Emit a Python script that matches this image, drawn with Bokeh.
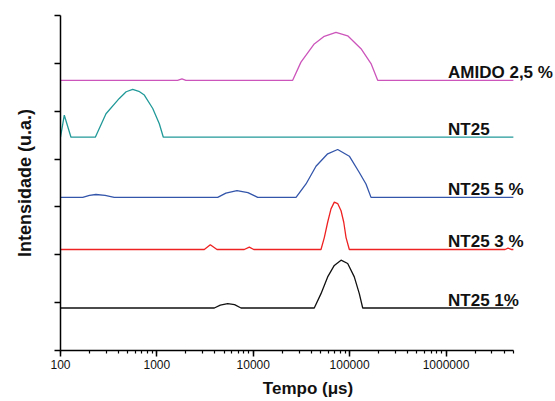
from bokeh.plotting import figure
from bokeh.models import Label, LogTicker, FixedTicker, PrintfTickFormatter, Range1d, CustomJSTickFormatter
from bokeh.embed import file_html
from bokeh.resources import INLINE

# Relaxation time (µs) and normalised intensity for each sample
amido_tau = [100, 1640, 1820, 2000, 25650, 31260, 42950, 54560, 72150, 95450, 131200, 166700, 195500, 5.0e6]
amido_int = [0, 0, 0.03, 0, 0, 0.38, 0.76, 0.92, 1.0, 0.93, 0.66, 0.35, 0, 0]

nt25_tau = [100, 109.5, 128.5, 229.7, 296.5, 407.5, 480, 561, 650, 741, 906, 1060, 1167, 5.0e6]
nt25_int = [0, 0.46, 0, 0, 0.49, 0.81, 0.95, 1.0, 0.96, 0.88, 0.60, 0.28, 0, 0]

nt25_5_tau = [100, 170, 200, 233, 290, 361, 4276, 5200, 6776, 8800, 11120,
              27800, 35270, 44780, 59190, 75170, 99300, 126000, 147800, 166700, 5.0e6]
nt25_5_int = [0, 0, 0.04, 0.06, 0.04, 0, 0, 0.09, 0.14, 0.10, 0,
              0, 0.28, 0.65, 0.91, 1.0, 0.86, 0.52, 0.28, 0, 0]

nt25_3_tau = [100, 3104, 3584, 4205, 8070, 9100, 10120,
              50470, 54610, 59170, 64070, 69340, 75170, 81470, 86910, 91820, 99300,
              4.1e6, 4.4e6, 4.8e6, 5.0e6]
nt25_3_int = [0, 0, 0.10, 0, 0, 0.05, 0,
              0, 0.25, 0.57, 0.85, 0.99, 0.96, 0.81, 0.57, 0.25, 0,
              0, 0.03, 0, 0]

nt25_1_tau = [100, 3945, 4550, 5432, 6400, 7464, 42960, 50470, 59170, 69340, 81470, 95500, 111800, 126000, 136700, 5.0e6]
nt25_1_int = [0, 0, 0.06, 0.09, 0.07, 0, 0, 0.30, 0.65, 0.89, 1.0, 0.93, 0.65, 0.30, 0, 0]

names = ["AMIDO 2,5 %", "NT25", "NT25 5 %", "NT25 3 %", "NT25 1%"]
offsets = [5.646, 4.457, 3.20, 2.11, 0.888]
colors = ["#CC55BB", "#229999", "#3355AA", "#EE2222", "#111111"]
taus = [amido_tau, nt25_tau, nt25_5_tau, nt25_3_tau, nt25_1_tau]
ints = [amido_int, nt25_int, nt25_5_int, nt25_3_int, nt25_1_int]

x_ticks_bounds = (100, 5.0e6)
y_ticks = [0, 1, 2, 3, 4, 5, 6, 7]

FONT = "Liberation Sans"

p = figure(width=555, height=401, x_axis_type="log",
           x_range=Range1d(100, 10 ** (2 + 495 / 96.375)),
           y_range=Range1d(0, 7),
           output_backend="svg", toolbar_location=None,
           min_border_left=60, min_border_top=15, min_border_right=0, min_border_bottom=51)
p.outline_line_color = None
p.xgrid.visible = False
p.ygrid.visible = False

for tau, inten, off, col in zip(taus, ints, offsets, colors):
    p.line(tau, [v + off for v in inten], line_color=col, line_width=1.3)

for name, off in zip(names, offsets):
    p.add_layout(Label(x=1.05e6, y=off + 0.16, text=name, text_font=FONT,
                       text_font_style="bold", text_font_size="17px",
                       text_baseline="alphabetic", text_align="left", text_color="#111111"))

xa = p.xaxis[0]
xa.ticker = LogTicker(num_minor_ticks=10)
xa.formatter = PrintfTickFormatter(format="%d")
xa.bounds = x_ticks_bounds
xa.axis_line_width = 1.5
xa.major_tick_line_width = 1.5
xa.minor_tick_line_width = 1.2
xa.major_tick_in = 0
xa.major_tick_out = 6
xa.minor_tick_in = 0
xa.minor_tick_out = 3
xa.major_label_standoff = 3
xa.major_label_text_font = FONT
xa.major_label_text_font_size = "12px"
xa.major_label_text_color = "#111111"
xa.axis_label = "Tempo (μs)"
xa.axis_label_text_font = FONT
xa.axis_label_text_font_style = "bold"
xa.axis_label_text_font_size = "17px"
xa.axis_label_standoff = 7
xa.axis_label_text_color = "#111111"

ya = p.yaxis[0]
ya.ticker = FixedTicker(ticks=y_ticks)
ya.bounds = (0, 7)
ya.axis_line_width = 1.5
ya.major_tick_line_width = 1.5
ya.major_tick_in = 0
ya.major_tick_out = 6
ya.minor_tick_line_color = None
ya.formatter = CustomJSTickFormatter(code="return ''")
ya.major_label_standoff = 0
ya.axis_label = "Intensidade (u.a.)"
ya.axis_label_text_font = FONT
ya.axis_label_text_font_style = "bold"
ya.axis_label_text_font_size = "18px"
ya.axis_label_standoff = 20
ya.axis_label_text_color = "#111111"

open("out.html", "w").write(file_html(p, INLINE))
